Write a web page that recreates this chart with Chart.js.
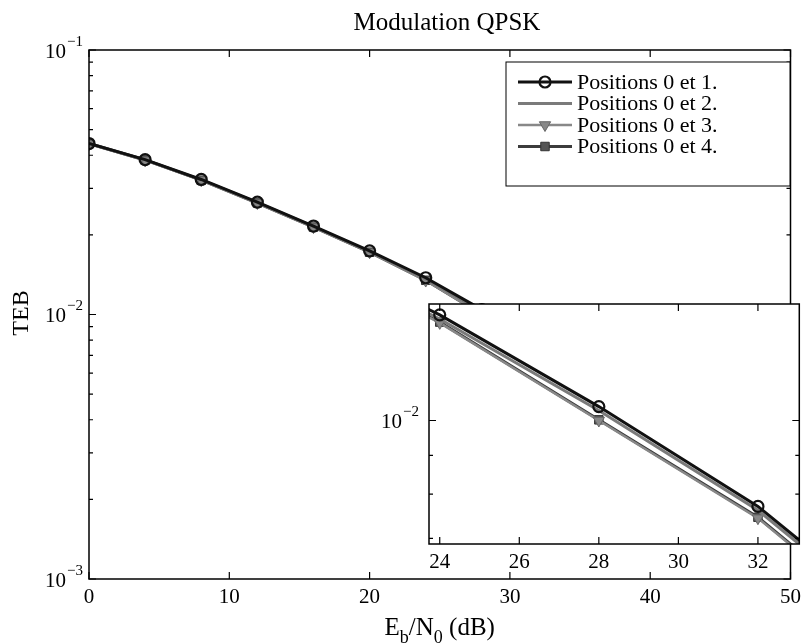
<!DOCTYPE html>
<html>
<head>
<meta charset="utf-8">
<script src="https://cdn.jsdelivr.net/npm/chart.js@4.4.1/dist/chart.umd.min.js"></script>
<style>
  html, body { margin: 0; padding: 0; background: #fff; }
  #wrap { position: relative; width: 807px; height: 643px; overflow: hidden; }
  #main { position: absolute; left: 0; top: 0; }
  #zoom { position: absolute; left: 370px; top: 290px; }
</style>
</head>
<body>
<div id="wrap">
  <canvas id="main" width="807" height="643"></canvas>
  <canvas id="zoom" width="437" height="300"></canvas>
</div>
<script>
// valeurs
const ebn0 = [0, 4, 8, 12, 16, 20, 24, 28, 32, 36];
const teb01 = [0.0443, 0.0385, 0.0324, 0.0266, 0.0216, 0.0174, 0.01377, 0.01043, 0.00771, 0.00520];
const teb02 = [0.0442, 0.0384, 0.0323, 0.0265, 0.0215, 0.0173, 0.01360, 0.01031, 0.00762, 0.00513];
const teb03 = [0.0441, 0.0383, 0.0322, 0.0264, 0.0214, 0.0172, 0.01344, 0.01000, 0.00744, 0.00500];
const teb04 = [0.0443, 0.0384, 0.0322, 0.0264, 0.0214, 0.0172, 0.01347, 0.01002, 0.00746, 0.00502];
const seriesNames = ['Positions 0 et 1.', 'Positions 0 et 2.', 'Positions 0 et 3.', 'Positions 0 et 4.'];

// graduations
const mainXTicks = [0, 10, 20, 30, 40, 50];
const mainYDecades = [1e-3, 1e-2, 1e-1];
const zoomXTicks = [24, 26, 28, 30, 32];
const zoomYDecades = [1e-3, 1e-2];

const SERIF = '"Liberation Serif", "DejaVu Serif", serif';

function pts(ys) {
  return ebn0.map((x, i) => ({ x: x, y: ys[i] }));
}

// styles des courbes
function makeDatasets() {
  return [
    { label: seriesNames[0], data: pts(teb01), borderColor: '#111', borderWidth: 3,
      pointStyle: 'circle', pointRadius: 5.5, pointBorderWidth: 2.2, pointBorderColor: '#111',
      pointBackgroundColor: 'rgba(0,0,0,0)' },
    { label: seriesNames[1], data: pts(teb02), borderColor: '#7a7a7a', borderWidth: 3,
      pointRadius: 0 },
    { label: seriesNames[2], data: pts(teb03), borderColor: '#888', borderWidth: 2.5,
      pointStyle: 'triangle', pointRotation: 180, pointRadius: 6.5, pointBorderWidth: 1,
      pointBorderColor: '#666', pointBackgroundColor: '#888' },
    { label: seriesNames[3], data: pts(teb04), borderColor: '#3c3c3c', borderWidth: 3,
      pointStyle: 'rect', pointRadius: 6, pointBorderWidth: 1,
      pointBorderColor: '#333', pointBackgroundColor: '#555' }
  ];
}

function minorTicks(decades, scale) {
  const out = [];
  decades.forEach(d => {
    for (let k = 2; k <= 9; k++) out.push(k * d);
  });
  return out.filter(v => v >= scale.min && v <= scale.max);
}

// cadre, graduations vers l'intérieur et étiquettes 10^n
function drawFrame(chart, xTicks, decades, labelGap) {
  const { ctx, chartArea: a, scales: { x, y } } = chart;
  ctx.save();
  ctx.strokeStyle = '#000';
  ctx.lineWidth = 1.5;
  ctx.strokeRect(a.left, a.top, a.right - a.left, a.bottom - a.top);

  ctx.lineWidth = 1.2;
  ctx.beginPath();
  xTicks.forEach(v => {
    const px = x.getPixelForValue(v);
    ctx.moveTo(px, a.bottom); ctx.lineTo(px, a.bottom - 7);
    ctx.moveTo(px, a.top); ctx.lineTo(px, a.top + 7);
  });
  const major = decades.filter(v => v >= y.min * 0.999 && v <= y.max * 1.001);
  major.forEach(v => {
    const py = y.getPixelForValue(v);
    ctx.moveTo(a.left, py); ctx.lineTo(a.left + 7, py);
    ctx.moveTo(a.right, py); ctx.lineTo(a.right - 7, py);
  });
  minorTicks(decades, y).forEach(v => {
    const py = y.getPixelForValue(v);
    ctx.moveTo(a.left, py); ctx.lineTo(a.left + 4, py);
    ctx.moveTo(a.right, py); ctx.lineTo(a.right - 4, py);
  });
  ctx.stroke();

  ctx.fillStyle = '#000';
  ctx.textAlign = 'right';
  ctx.textBaseline = 'middle';
  major.forEach(v => {
    const py = y.getPixelForValue(v);
    const exp = '\u2212' + Math.round(-Math.log10(v));
    const right = a.left - labelGap;
    ctx.font = '15px ' + SERIF;
    ctx.fillText(exp, right, py - 8);
    const w = ctx.measureText(exp).width;
    ctx.font = '21px ' + SERIF;
    ctx.fillText('10', right - w - 1, py + 2);
  });
  ctx.restore();
}

const mainDecor = {
  id: 'mainDecor',
  afterDraw(chart) {
    drawFrame(chart, mainXTicks, mainYDecades, 6);
    const ctx = chart.ctx;
    const a = chart.chartArea;
    ctx.save();
    ctx.fillStyle = '#000';

    // titre
    ctx.font = '25px ' + SERIF;
    ctx.textAlign = 'center';
    ctx.textBaseline = 'middle';
    ctx.fillText('Modulation QPSK', 447, 23);

    // titre axe y
    ctx.save();
    ctx.translate(22, 313);
    ctx.rotate(-Math.PI / 2);
    ctx.font = '24px ' + SERIF;
    ctx.fillText('TEB', 0, 0);
    ctx.restore();

    // titre axe x avec indices
    const parts = [['E', 0, 25], ['b', 8, 18], ['/N', 0, 25], ['0', 8, 18], [' (dB)', 0, 25]];
    ctx.textAlign = 'left';
    ctx.textBaseline = 'alphabetic';
    let total = 0;
    parts.forEach(p => { ctx.font = p[2] + 'px ' + SERIF; total += ctx.measureText(p[0]).width; });
    let cx = (a.left + a.right) / 2 - total / 2;
    parts.forEach(p => {
      ctx.font = p[2] + 'px ' + SERIF;
      ctx.fillText(p[0], cx, 635 + p[1]);
      cx += ctx.measureText(p[0]).width;
    });

    // légende
    const lx = 506, ly = 62, lw = 284, lh = 124;
    ctx.fillStyle = '#fff';
    ctx.fillRect(lx, ly, lw, lh);
    ctx.strokeStyle = '#000';
    ctx.lineWidth = 1;
    ctx.strokeRect(lx, ly, lw, lh);
    chart.data.datasets.forEach((ds, i) => {
      const ry = 82 + i * 21.5;
      ctx.strokeStyle = ds.borderColor;
      ctx.lineWidth = ds.borderWidth;
      ctx.beginPath();
      ctx.moveTo(518, ry); ctx.lineTo(572, ry);
      ctx.stroke();
      if (ds.pointRadius > 0) {
        ctx.strokeStyle = ds.pointBorderColor;
        ctx.fillStyle = ds.pointBackgroundColor;
        ctx.lineWidth = ds.pointBorderWidth;
        Chart.helpers.drawPoint(ctx, {
          pointStyle: ds.pointStyle, rotation: ds.pointRotation || 0,
          radius: ds.pointRadius, borderWidth: ds.pointBorderWidth
        }, 545, ry);
      }
      ctx.fillStyle = '#000';
      ctx.font = '22px ' + SERIF;
      ctx.textBaseline = 'middle';
      ctx.fillText(ds.label, 577, ry + 1);
    });
    ctx.restore();
  }
};

const zoomDecor = {
  id: 'zoomDecor',
  beforeDraw(chart) {
    const a = chart.chartArea;
    chart.ctx.save();
    chart.ctx.fillStyle = '#fff';
    chart.ctx.fillRect(a.left, a.top, a.right - a.left, a.bottom - a.top);
    chart.ctx.restore();
  },
  afterDraw(chart) {
    drawFrame(chart, zoomXTicks, zoomYDecades, 10);
  }
};

function xScale(min, max, ticks, height) {
  return {
    type: 'linear', min: min, max: max,
    afterBuildTicks: s => { s.ticks = ticks.map(v => ({ value: v })); },
    afterFit: s => { s.height = height; },
    grid: { display: false, drawTicks: false },
    border: { display: false },
    ticks: { color: '#000', padding: 6, maxRotation: 0, font: { family: SERIF, size: 21 } }
  };
}

function yScale(min, max, width) {
  return {
    type: 'logarithmic', min: min, max: max,
    afterFit: s => { s.width = width; },
    grid: { display: false, drawTicks: false },
    border: { display: false },
    ticks: { display: false }
  };
}

new Chart(document.getElementById('main'), {
  type: 'line',
  data: { datasets: makeDatasets() },
  options: {
    responsive: false,
    animation: false,
    layout: { padding: { top: 50, right: 14, left: 0, bottom: 0 } },
    plugins: { legend: { display: false }, tooltip: { enabled: false } },
    scales: {
      x: xScale(0, 50, mainXTicks, 64),
      y: yScale(1e-3, 1e-1, 89)
    }
  },
  plugins: [mainDecor]
});

new Chart(document.getElementById('zoom'), {
  type: 'line',
  data: { datasets: makeDatasets() },
  options: {
    responsive: false,
    animation: false,
    layout: { padding: { top: 14, right: 2, left: 0, bottom: 0 } },
    plugins: { legend: { display: false }, tooltip: { enabled: false } },
    scales: {
      x: xScale(23.73, 33.04, zoomXTicks, 46),
      y: yScale(0.00688, 0.01423, 59)
    }
  },
  plugins: [zoomDecor]
});
</script>
</body>
</html>
